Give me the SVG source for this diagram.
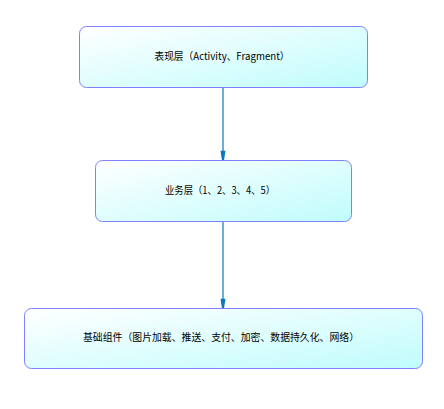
<svg xmlns="http://www.w3.org/2000/svg" width="444" height="409" viewBox="0 0 444 409">
<style>
.box{fill:url(#g);stroke:#7f7fff;stroke-width:1}
.lbl{font-family:"Noto Sans CJK SC","Liberation Sans",sans-serif;font-size:10px;fill:#000;text-anchor:middle}
.conn{stroke:#0a78c0;stroke-width:1.2;fill:none;marker-end:url(#ah)}
</style>
<defs>
<linearGradient id="g" x1="0" y1="0" x2="1" y2="1">
<stop offset="0" stop-color="#ffffff"/>
<stop offset="1" stop-color="#c0fcfc"/>
</linearGradient>
<marker id="ah" markerUnits="userSpaceOnUse" markerWidth="10" markerHeight="16" refX="13" refY="4" orient="auto" viewBox="0 0 14 8" overflow="visible">
<path d="M0,0.5 L13,2.5 L13,5.5 L0,7.5 Z" fill="#0a78c0"/>
</marker>
</defs>
<g id="n1"><rect class="box" x="79.5" y="26.5" width="288" height="61" rx="7"/><text class="lbl" x="222" y="60" textLength="135" lengthAdjust="spacingAndGlyphs">表现层（Activity、Fragment）</text></g>
<g id="n2"><rect class="box" x="95.5" y="160.5" width="256" height="61" rx="7"/><text class="lbl" x="220" y="194" textLength="110" lengthAdjust="spacingAndGlyphs">业务层（1、2、3、4、5）</text></g>
<g id="n3"><rect class="box" x="24.5" y="308.5" width="398" height="60" rx="7"/><text class="lbl" x="221" y="341" textLength="276" lengthAdjust="spacingAndGlyphs">基础组件（图片加载、推送、支付、加密、数据持久化、网络）</text></g>
<g id="connectors">
<path class="conn" d="M223,88 L223,160"/>
<path class="conn" d="M223,222 L223,308"/>
</g>
</svg>
